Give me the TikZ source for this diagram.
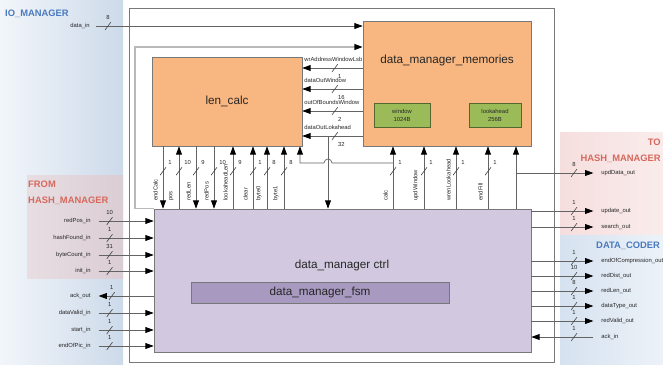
\documentclass[tikz,border=0pt]{standalone}
\usepackage{fontspec}
\setmainfont{Liberation Sans}
\usetikzlibrary{arrows.meta}

\definecolor{memorange}{RGB}{248,182,128}
\definecolor{memgreen}{RGB}{155,187,89}
\definecolor{ctrllilac}{RGB}{210,201,224}
\definecolor{fsmlilac}{RGB}{168,153,192}
\definecolor{boxline}{RGB}{120,120,120}
\definecolor{wiregray}{RGB}{100,100,100}
\definecolor{fbgray}{RGB}{185,185,185}
\definecolor{ioleft}{RGB}{242,246,250}
\definecolor{ioright}{RGB}{205,218,234}
\definecolor{fromleft}{RGB}{232,222,226}
\definecolor{fromright}{RGB}{218,205,212}
\definecolor{toleft}{RGB}{246,222,222}
\definecolor{toright}{RGB}{250,236,236}
\definecolor{dcleft}{RGB}{214,226,240}
\definecolor{dcright}{RGB}{236,242,248}
\definecolor{bluetitle}{RGB}{74,121,190}
\definecolor{redtitle}{RGB}{214,104,92}

\begin{document}
\begin{tikzpicture}[
x=0.03cm, y=-0.03cm,
blk/.style={rectangle, draw=boxline, line width=0.6pt, inner sep=0pt, text=black!85, font=\fontsize{10}{12}\selectfont},
orangebox/.style={blk, fill=memorange},
greenbox/.style={blk, fill=memgreen, draw=memgreen!55!black, align=center, font=\fontsize{5}{6.8}\selectfont},
ctrlbox/.style={blk, fill=ctrllilac},
fsmbox/.style={blk, fill=fsmlilac},
title/.style={inner sep=0pt, text=black!85, font=\fontsize{10}{12}\selectfont},
paneltitle/.style={inner sep=0pt, font=\fontsize{8}{13.5}\selectfont\bfseries},
lbl/.style={inner sep=1pt, text=black!85, font=\fontsize{5}{6}\selectfont},
vlbl/.style={lbl, rotate=90, anchor=south west},
num/.style={inner sep=1.5pt, text=black!85, font=\fontsize{5}{6}\selectfont},
sig/.style={draw=wiregray, line width=0.6pt, -{Triangle[length=7pt, width=5pt, color=black]}},
bus/.style={inner sep=0pt, minimum width=0.18cm, minimum height=0.24cm, path picture={\draw[-, black!75, line width=0.5pt] (path picture bounding box.south west) -- (path picture bounding box.north east);}}
]
\useasboundingbox (0,0) rectangle (663,365);
\clip (0,0) rectangle (663,365);

% neighbour modules
\shade[left color=ioleft, right color=ioright] (0,0) rectangle (123,365);
\shade[left color=fromleft, right color=fromright] (27,175) rectangle (123,278);
\shade[left color=toleft, right color=toright] (560,132) rectangle (663,235);
\shade[left color=dcleft, right color=dcright] (560,235) rectangle (663,365);
\node[paneltitle, text=bluetitle, anchor=base west] (ioTitle) at (5,16.5) {IO\_MANAGER};
\node[paneltitle, text=redtitle, anchor=north west, align=left] (fromTitle) at (28,180.5) {FROM\\HASH\_MANAGER};
\node[paneltitle, text=redtitle, anchor=north east, align=right] (toTitle) at (661,138.5) {TO\\HASH\_MANAGER};
\node[paneltitle, text=bluetitle, anchor=base west] (dcTitle) at (596,248.5) {DATA\_CODER};

% data_manager
\draw[boxline, line width=0.7pt] (129,8) rectangle (554,362);

\node[orangebox, minimum width=5.04cm, minimum height=3.75cm] (mem) at (447,83.5) {};
\node[title] (memTitle) at (447,60) {data\_manager\_memories};
\node[greenbox, minimum width=1.68cm, minimum height=0.72cm] (window) at (402,115) {window\\1024B};
\node[greenbox, minimum width=1.56cm, minimum height=0.72cm] (lookahead) at (495,115) {lookahead\\256B};
\node[orangebox, minimum width=4.5cm, minimum height=2.67cm] (len) at (227,101.5) {len\_calc};
\node[ctrlbox, minimum width=11.31cm, minimum height=4.29cm] (ctrl) at (342.5,280.5) {};
\node[title] (ctrlTitle) at (342,265) {data\_manager ctrl};
\node[fsmbox, minimum width=7.74cm, minimum height=0.63cm] (fsm) at (320,292.5) {data\_manager\_fsm};

% input from IO_MANAGER and feedback
\node[lbl, anchor=east] (dataIn) at (91,26) {data\_in};
\draw[sig] ([xshift=0.15cm]dataIn.east) -- (mem.west |- dataIn) node[bus, pos=.045, label={[num]above:8}] (bDataIn) {};
\draw[sig, draw=fbgray, line width=1.2pt] (ctrl.north west) -- (135,0 |- ctrl.north) |- (mem.west |- 0,47);

% memories -> len_calc
\node[lbl, anchor=south west] (wrAddrLbl) at (303,63) {wrAddressWindowLsb};
\draw[sig] (mem.west |- 0,68) -- (len.east |- 0,68) node[bus, pos=.46, label={[num]-75:1}] (bWrAddr) {};
\node[lbl, anchor=south west] (dataOutWinLbl) at (303,84) {dataOutWindow};
\draw[sig] (mem.west |- 0,89) -- (len.east |- 0,89) node[bus, pos=.46, label={[num]-75:16}] (bDataOutWin) {};
\node[lbl, anchor=south west] (outOfBoundsLbl) at (303,106) {outOfBoundsWindow};
\draw[sig] (mem.west |- 0,111) -- (len.east |- 0,111) node[bus, pos=.46, label={[num]-75:2}] (bOutOfBounds) {};
\node[lbl, anchor=south west] (dataOutLookLbl) at (303,131) {dataOutLokahead};
\draw[sig] (mem.west |- 0,136) -- (len.east |- 0,136) node[bus, pos=.46, label={[num]-75:32}] (bDataOutLook) {};
\coordinate (lookJoint) at (328,136);
\draw[sig] (lookJoint) -- (lookJoint |- ctrl.north);

% len_calc <-> ctrl
\draw[sig] (163,0 |- len.south) -- (163,0 |- ctrl.north) node[bus, pos=.40, label={[num]north east:1}] (bEndCalc) {};
\node[vlbl] (endCalcLbl) at (159,202) {endCalc};
\draw[sig] (179,0 |- ctrl.north) -- (179,0 |- len.south) node[bus, pos=.60, label={[num]north east:10}] (bPos) {};
\node[vlbl] (posLbl) at (175,202) {pos};
\draw[sig] (196,0 |- len.south) -- (196,0 |- ctrl.north) node[bus, pos=.40, label={[num]north east:9}] (bRedLen) {};
\node[vlbl] (redLenLbl) at (192,202) {redLen};
\draw[sig] (214,0 |- len.south) -- (214,0 |- ctrl.north) node[bus, pos=.40, label={[num]north east:10}] (bRedPos) {};
\node[vlbl] (redPosLbl) at (210,202) {redPos};
\draw[sig] (233,0 |- ctrl.north) -- (233,0 |- len.south) node[bus, pos=.60, label={[num]north east:9}] (bLookLen) {};
\node[vlbl] (lookLenLbl) at (229,202) {lookaheadLen};
\draw[sig] (253,0 |- ctrl.north) -- (253,0 |- len.south) node[bus, pos=.60, label={[num]north east:1}] (bClear) {};
\node[vlbl] (clearLbl) at (249,202) {clear};
\draw[sig] (267,0 |- ctrl.north) -- (267,0 |- len.south) node[bus, pos=.60, label={[num]north east:8}] (bByte0) {};
\node[vlbl] (byte0Lbl) at (263,202) {byte0};
\draw[sig] (284,0 |- ctrl.north) -- (284,0 |- len.south) node[bus, pos=.60, label={[num]north east:8}] (bByte1) {};
\node[vlbl] (byte1Lbl) at (280,202) {byte1};

% ctrl -> memories
\draw[sig] (393,0 |- ctrl.north) -- (393,0 |- mem.south) node[bus, pos=.60, label={[num]north east:1}] (bCalc) {};
\node[vlbl] (calcLbl) at (389,202) {calc};
\coordinate (calcJoint) at (393,163);
\draw[sig] (calcJoint) -- (332,163) arc[start angle=0, end angle=180, radius=0.12cm] -- (300,163) -- (300,0 |- len.south);
\draw[sig] (424,0 |- ctrl.north) -- (424,0 |- mem.south) node[bus, pos=.60, label={[num]north east:1}] (bUpdWin) {};
\node[vlbl] (updWinLbl) at (420,202) {updWindow};
\draw[sig] (456,0 |- ctrl.north) -- (456,0 |- mem.south) node[bus, pos=.60, label={[num]north east:1}] (bWrenLook) {};
\node[vlbl] (wrenLookLbl) at (452,202) {wrenLookahead};
\draw[sig] (488,0 |- ctrl.north) -- (488,0 |- mem.south) node[bus, pos=.60, label={[num]north east:1}] (bEndFill) {};
\node[vlbl] (endFillLbl) at (484,202) {endFill};
\draw[sig] (516,0 |- ctrl.north) -- (516,0 |- mem.south);

% to HASH_MANAGER
\node[lbl, anchor=west] (updDataOut) at (600,173) {updData\_out};
\coordinate (updJoint) at (516,173);
\draw[sig] (updJoint) -- ([xshift=-0.2cm]updDataOut.west) node[bus, pos=.75, label={[num]above:8}] (bUpdData) {};
\node[lbl, anchor=west] (updateOut) at (600,211) {update\_out};
\draw[sig] (ctrl.east |- updateOut) -- ([xshift=-0.2cm]updateOut.west) node[bus, pos=.69, label={[num]above:1}] (bUpdate) {};
\node[lbl, anchor=west] (searchOut) at (600,227) {search\_out};
\draw[sig] (ctrl.east |- searchOut) -- ([xshift=-0.2cm]searchOut.west) node[bus, pos=.69, label={[num]above:1}] (bSearch) {};

% to DATA_CODER
\node[lbl, anchor=west] (endOfCompOut) at (600,261) {endOfCompression\_out};
\draw[sig] (ctrl.east |- endOfCompOut) -- ([xshift=-0.2cm]endOfCompOut.west) node[bus, pos=.69, label={[num]above:1}] (bEndOfComp) {};
\node[lbl, anchor=west] (redDistOut) at (600,276) {redDist\_out};
\draw[sig] (ctrl.east |- redDistOut) -- ([xshift=-0.2cm]redDistOut.west) node[bus, pos=.69, label={[num]above:10}] (bRedDist) {};
\node[lbl, anchor=west] (redLenOut) at (600,291) {redLen\_out};
\draw[sig] (ctrl.east |- redLenOut) -- ([xshift=-0.2cm]redLenOut.west) node[bus, pos=.69, label={[num]above:8}] (bRedLenOut) {};
\node[lbl, anchor=west] (dataTypeOut) at (600,306) {dataType\_out};
\draw[sig] (ctrl.east |- dataTypeOut) -- ([xshift=-0.2cm]dataTypeOut.west) node[bus, pos=.69, label={[num]above:1}] (bDataType) {};
\node[lbl, anchor=west] (redValidOut) at (600,321) {redValid\_out};
\draw[sig] (ctrl.east |- redValidOut) -- ([xshift=-0.2cm]redValidOut.west) node[bus, pos=.69, label={[num]above:1}] (bRedValid) {};
\node[lbl, anchor=west] (ackIn) at (600,337) {ack\_in};
\draw[sig] ([xshift=-0.2cm]ackIn.west) -- (ctrl.east |- ackIn) node[bus, pos=.31, label={[num]above:1}] (bAckIn) {};

% from HASH_MANAGER and IO_MANAGER
\node[lbl, anchor=east] (redPosIn) at (92,221) {redPos\_in};
\draw[sig] ([xshift=0.2cm]redPosIn.east) -- (ctrl.west |- redPosIn) node[bus, pos=.2, label={[num]above:10}] (bRedPosIn) {};
\node[lbl, anchor=east] (hashFoundIn) at (92,238) {hashFound\_in};
\draw[sig] ([xshift=0.2cm]hashFoundIn.east) -- (ctrl.west |- hashFoundIn) node[bus, pos=.2, label={[num]above:1}] (bHashFound) {};
\node[lbl, anchor=east] (byteCountIn) at (92,255) {byteCount\_in};
\draw[sig] ([xshift=0.2cm]byteCountIn.east) -- (ctrl.west |- byteCountIn) node[bus, pos=.2, label={[num]above:31}] (bByteCount) {};
\node[lbl, anchor=east] (initIn) at (92,271) {init\_in};
\draw[sig] ([xshift=0.2cm]initIn.east) -- (ctrl.west |- initIn) node[bus, pos=.2, label={[num]above:1}] (bInit) {};
\node[lbl, anchor=east] (ackOut) at (92,296) {ack\_out};
\draw[sig] (ctrl.west |- ackOut) -- ([xshift=0.2cm]ackOut.east) node[bus, pos=.76, label={[num]above:1}] (bAckOut) {};
\node[lbl, anchor=east] (dataValidIn) at (92,313) {dataValid\_in};
\draw[sig] ([xshift=0.2cm]dataValidIn.east) -- (ctrl.west |- dataValidIn) node[bus, pos=.2, label={[num]above:1}] (bDataValid) {};
\node[lbl, anchor=east] (startIn) at (92,330) {start\_in};
\draw[sig] ([xshift=0.2cm]startIn.east) -- (ctrl.west |- startIn) node[bus, pos=.2, label={[num]above:1}] (bStart) {};
\node[lbl, anchor=east] (endOfPicIn) at (92,346) {endOfPic\_in};
\draw[sig] ([xshift=0.2cm]endOfPicIn.east) -- (ctrl.west |- endOfPicIn) node[bus, pos=.2, label={[num]above:1}] (bEndOfPic) {};

\end{tikzpicture}
\end{document}
